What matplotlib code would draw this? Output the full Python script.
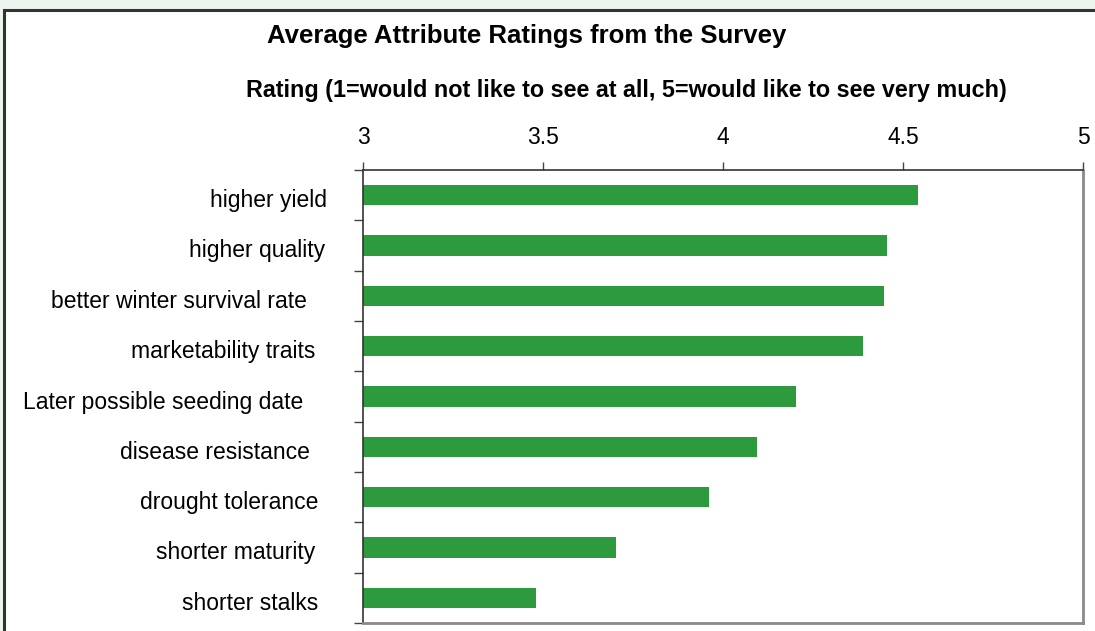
import matplotlib
matplotlib.use("Agg")
import matplotlib.pyplot as plt
import numpy as np
from matplotlib.patches import Rectangle
from matplotlib.transforms import ScaledTranslation

categories = ["higher yield", "higher quality", "better winter survival rate",
              "marketability traits", "Later possible seeding date", "disease resistance",
              "drought tolerance", "shorter maturity", "shorter stalks"]
values = [4.542, 4.456, 4.447, 4.389, 4.203, 4.094, 3.961, 3.703, 3.481]
xticks = [3, 3.5, 4, 4.5, 5]
xtick_labels = ["3", "3.5", "4", "4.5", "5"]

# per-label horizontal nudges (pixels) to mimic the original label placement
label_nudge_px = [-1, -3, -21, -13, -25, -18, -10, -13, -10]

plt.rcParams['font.family'] = ['Liberation Sans', 'DejaVu Sans']

fig = plt.figure(figsize=(10.95, 6.31), dpi=100, facecolor='#eef5ee')
W, H = 1095, 631
# white panel with dark frame
fig.patches.append(Rectangle((4 / W, -0.1), 1.2, 1 - 10 / H + 0.1, transform=fig.transFigure,
                             facecolor='white', edgecolor='#333333', linewidth=2.2, zorder=-10))

ax = fig.add_axes([363 / W, 1 - 623 / H, 720 / W, 453 / H])
ax.set_zorder(5)
ax.patch.set_alpha(0)
n = len(categories)
y = np.arange(n)
ax.barh(y, [v - 3 for v in values], left=3, height=0.4, color='#2e9a3e', zorder=2)
ax.set_xlim(3, 5)
ax.set_ylim(n - 0.5, -0.5)

ax.xaxis.tick_top()
ax.set_xticks(xticks)
ax.set_xticklabels(xtick_labels, fontsize=16.5)
ax.tick_params(axis='x', direction='out', length=6, width=1, color='#444444', pad=9)

ax.set_yticks(y)
ax.set_yticklabels(categories, fontsize=16.5)
ax.tick_params(axis='y', which='major', length=0, pad=25)
ax.set_yticks(np.arange(-0.5, n + 0.5, 1), minor=True)
ax.tick_params(axis='y', which='minor', direction='out', length=6.5, width=1, color='#444444')

for lbl, dx in zip(ax.get_yticklabels(), label_nudge_px):
    lbl.set_transform(lbl.get_transform() + ScaledTranslation(dx / 100, -3 / 100, fig.dpi_scale_trans))

for s in ['top', 'left']:
    ax.spines[s].set_color('#333333')
    ax.spines[s].set_linewidth(1.2)
for s in ['right', 'bottom']:
    ax.spines[s].set_color('#8a8a8a')
    ax.spines[s].set_linewidth(2)

fig.text(527 / W, 1 - 36 / H, "Average Attribute Ratings from the Survey",
         ha='center', va='center', fontsize=18.5, fontweight='bold')
fig.text(626 / W, 1 - 91 / H, "Rating (1=would not like to see at all, 5=would like to see very much)",
         ha='center', va='center', fontsize=16.8, fontweight='bold')

fig.savefig("out.png", dpi=100, facecolor=fig.get_facecolor())
